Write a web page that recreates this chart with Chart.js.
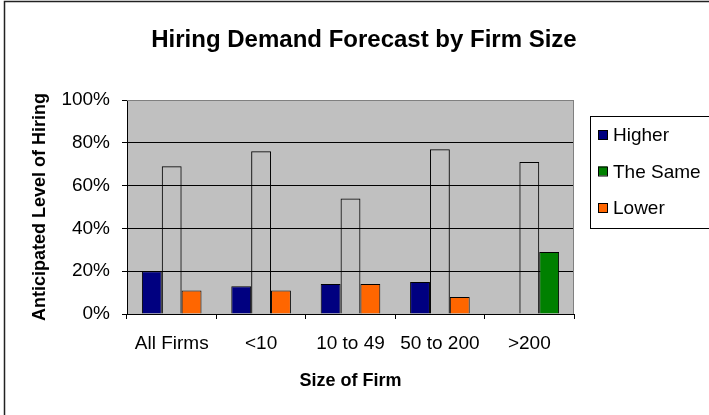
<!DOCTYPE html>
<html>
<head>
<meta charset="utf-8">
<script src="https://cdn.jsdelivr.net/npm/chart.js@4.4.0/dist/chart.umd.min.js"></script>
<style>
  html, body { margin: 0; padding: 0; background: #fff; }
  #wrap { width: 709px; height: 415px; position: relative; }
</style>
</head>
<body>
<div id="wrap"><canvas id="chart" width="709" height="415"></canvas></div>
<script>
// chart data
const categories = ['All Firms', '<10', '10 to 49', '50 to 200', '>200'];
const higher = [20, 13, 14, 15, 0];
const same = [69, 76, 54, 77, 71];
const lower = [11, 11, 14, 8, 29];
const yTicks = [0, 20, 40, 60, 80, 100];

const chartTitle = 'Hiring Demand Forecast by Firm Size';
const FONT = '"Liberation Sans", Arial, sans-serif';

// legend swatches as shown in the original key
const legendItems = [
    { label: 'Higher', color: '#000080' },
    { label: 'The Same', color: '#008000' },
    { label: 'Lower', color: '#FF6600' }
];

// frame, plot background, title and boxed legend
const excelLook = {
    id: 'excelLook',
    beforeDraw(chart) {
        const { ctx, chartArea: a } = chart;
        ctx.save();
        ctx.fillStyle = '#fff';
        ctx.fillRect(0, 0, chart.width, chart.height);
        ctx.strokeStyle = '#222';
        ctx.lineWidth = 1.5;
        ctx.strokeRect(4.5, 1.5, 800, 500);
        ctx.fillStyle = '#C0C0C0';
        ctx.fillRect(a.left, a.top, a.right - a.left, a.bottom - a.top);
        ctx.restore();
    },
    afterDraw(chart) {
        const { ctx, chartArea: a } = chart;
        ctx.save();
        // plot area border (top / right)
        ctx.strokeStyle = '#808080';
        ctx.lineWidth = 1;
        ctx.beginPath();
        ctx.moveTo(a.left, a.top + 0.5);
        ctx.lineTo(a.right - 0.5, a.top + 0.5);
        ctx.lineTo(a.right - 0.5, a.bottom);
        ctx.stroke();

        // title
        ctx.fillStyle = '#000';
        ctx.font = 'bold 24px ' + FONT;
        ctx.textAlign = 'center';
        ctx.textBaseline = 'middle';
        ctx.fillText(chartTitle, 364, 40);

        // legend box
        ctx.strokeStyle = '#000';
        ctx.lineWidth = 1;
        ctx.strokeRect(590.5, 116.5, 130, 112);
        ctx.font = '19px ' + FONT;
        ctx.textAlign = 'left';
        legendItems.forEach((item, i) => {
            const y = 135 + i * 36.5;
            ctx.fillStyle = item.color;
            ctx.fillRect(598, y - 5, 9, 9);
            ctx.strokeRect(598.5, y - 4.5, 9, 9);
            ctx.fillStyle = '#000';
            ctx.fillText(item.label, 613, y + 1);
        });
        ctx.restore();
    }
};

const ctx = document.getElementById('chart');

new Chart(ctx, {
    type: 'bar',
    data: {
        labels: categories,
        datasets: [{
            label: 'Higher',
            data: higher,
            backgroundColor: '#000080',
            borderColor: '#000',
            borderWidth: 1
        }, {
            label: 'The Same',
            data: same,
            backgroundColor: 'rgba(0,0,0,0)',
            borderColor: '#000',
            borderWidth: 1
        }, {
            label: 'Lower',
            data: lower,
            backgroundColor: ['#FF6600', '#FF6600', '#FF6600', '#FF6600', '#008000'],
            borderColor: '#000',
            borderWidth: 1
        }]
    },
    options: {
        responsive: false,
        animation: false,
        events: [],
        categoryPercentage: 3 / 4.5,
        barPercentage: 1,
        layout: { padding: { top: 100, right: 135, left: 0, bottom: 0 } },
        plugins: {
            legend: { display: false },
            title: { display: false },
            tooltip: { enabled: false }
        },
        scales: {
            x: {
                afterFit: scale => { scale.height = 101; },
                grid: {
                    drawOnChartArea: false,
                    drawTicks: true,
                    tickLength: 5,
                    color: '#000',
                    offset: true
                },
                border: { color: '#000', width: 1 },
                ticks: {
                    color: '#000',
                    padding: 13,
                    maxRotation: 0,
                    autoSkip: false,
                    font: { family: FONT, size: 19 }
                },
                title: {
                    display: true,
                    text: 'Size of Firm',
                    color: '#000',
                    font: { family: FONT, size: 18, weight: 'bold' },
                    padding: { top: 0, bottom: 23 }
                }
            },
            y: {
                min: 0,
                max: 100,
                afterFit: scale => { scale.width = 127; },
                afterBuildTicks: scale => { scale.ticks = yTicks.map(v => ({ value: v })); },
                grid: {
                    color: c => (c.tick && c.tick.value === 100 ? '#808080' : '#000'),
                    tickColor: '#000',
                    tickLength: 5,
                    lineWidth: 1
                },
                border: { color: '#000', width: 1 },
                ticks: {
                    color: '#000',
                    padding: 12,
                    font: { family: FONT, size: 19 },
                    callback: v => v + '%'
                },
                title: {
                    display: true,
                    text: 'Anticipated Level of Hiring',
                    color: '#000',
                    font: { family: FONT, size: 18, weight: 'bold' },
                    padding: { top: 29, bottom: 0 }
                }
            }
        }
    },
    plugins: [excelLook]
});
</script>
</body>
</html>
